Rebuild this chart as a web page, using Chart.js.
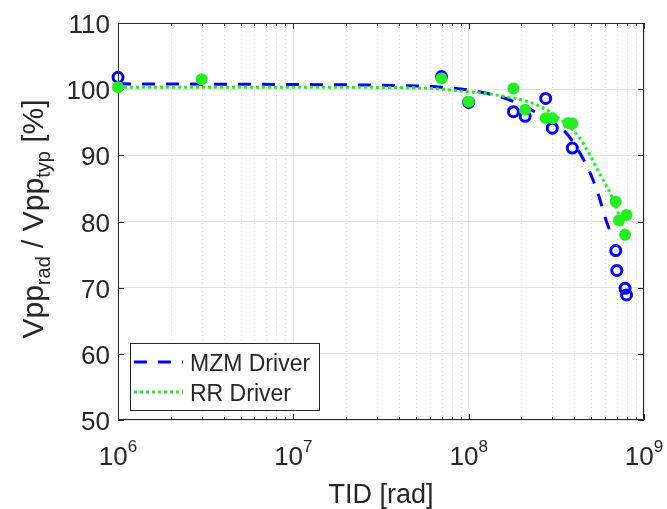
<!DOCTYPE html>
<html>
<head>
<meta charset="utf-8">
<script src="https://cdn.jsdelivr.net/npm/chart.js@4"></script>
<style>
html, body { margin: 0; padding: 0; background: #fff; }
</style>
</head>
<body>
<canvas id="vpp_chart" width="667" height="509"></canvas>
<script>
// measured points (TID in rad, Vpp ratio in %)
var mzmTid = [1e6, 7e7, 1e8, 1.8e8, 2.1e8, 2.75e8, 3.0e8, 3.9e8, 6.9e8, 7.0e8, 7.8e8, 7.95e8];
var mzmVpp = [101.8, 101.9, 98.0, 96.6, 95.9, 98.6, 94.1, 91.1, 75.6, 72.6, 69.9, 68.9];

var rrTid = [1e6, 3e6, 7e7, 1e8, 1.8e8, 2.1e8, 2.75e8, 3.0e8, 3.7e8, 3.9e8, 6.9e8, 7.2e8, 7.95e8, 7.8e8];
var rrVpp = [100.3, 101.5, 101.6, 98.1, 100.1, 96.9, 95.6, 95.6, 94.9, 94.8, 83.0, 80.2, 81.0, 78.0];

// fit curves
var mzmFitTid = [1e6, 1e7, 3e7, 7e7, 1.2e8, 1.7e8, 2.5e8, 3.0e8, 3.7e8, 4.9e8, 5.5e8, 6.2e8, 6.6e8];
var mzmFitVpp = [100.8, 100.7, 100.6, 100.3, 99.5, 98.4, 96.3, 95.0, 93.0, 87.5, 84.0, 79.5, 77.8];

var rrFitTid = [1e6, 1e7, 5e7, 1e8, 1.45e8, 2.3e8, 3.0e8, 4.3e8, 5.7e8, 6.6e8, 7.2e8, 7.8e8];
var rrFitVpp = [100.3, 100.3, 100.2, 99.6, 99.1, 97.9, 96.3, 92.6, 86.8, 83.6, 81.0, 78.0];

var yTicks = [50, 60, 70, 80, 90, 100, 110];
var xDecades = [6, 7, 8, 9];
var legendLabels = ['MZM Driver', 'RR Driver'];
var xTitle = 'TID [rad]';

var FONT = '"Liberation Sans", Arial, sans-serif';
var TXT = '#262626';
var BLUE = '#0000ff';
var GREEN = '#22ee22';

function pts(xs, ys) {
    return xs.map(function (x, i) { return { x: x, y: ys[i] }; });
}

function seg(ctx, x1, y1, x2, y2) {
    ctx.beginPath();
    ctx.moveTo(x1, y1);
    ctx.lineTo(x2, y2);
    ctx.stroke();
}

// minor grid, box and inward ticks, under the data
var matlabAxes = {
    id: 'matlabAxes',
    beforeDatasetsDraw: function (chart) {
        var ctx = chart.ctx, a = chart.chartArea;
        var xs = chart.scales.x, ys = chart.scales.y;
        ctx.save();
        ctx.lineWidth = 1;
        ctx.strokeStyle = '#d6d6d6';
        ctx.setLineDash([1, 3]);
        var minors = [];
        for (var e = 6; e < 9; e++) {
            for (var m = 2; m <= 9; m++) minors.push(Math.round(xs.getPixelForValue(m * Math.pow(10, e))) + 0.5);
        }
        minors.forEach(function (px) { seg(ctx, px, a.top, px, a.bottom); });
        ctx.setLineDash([]);

        ctx.strokeStyle = TXT;
        ctx.strokeRect(Math.round(a.left) + 0.5, Math.round(a.top) + 0.5,
            Math.round(a.right - a.left) - 1, Math.round(a.bottom - a.top) - 1);
        minors.forEach(function (px) {
            seg(ctx, px, a.bottom, px, a.bottom - 3);
            seg(ctx, px, a.top, px, a.top + 3);
        });
        xDecades.forEach(function (d) {
            var px = Math.round(xs.getPixelForValue(Math.pow(10, d))) + 0.5;
            seg(ctx, px, a.bottom, px, a.bottom - 6);
            seg(ctx, px, a.top, px, a.top + 6);
        });
        yTicks.forEach(function (v) {
            var py = Math.round(ys.getPixelForValue(v)) + 0.5;
            seg(ctx, a.left, py, a.left + 6, py);
            seg(ctx, a.right, py, a.right - 6, py);
        });
        ctx.restore();
    },
    afterDraw: function (chart) {
        var ctx = chart.ctx, a = chart.chartArea;
        var xs = chart.scales.x, ys = chart.scales.y;
        ctx.save();
        ctx.fillStyle = TXT;

        // y tick labels
        ctx.font = '26px ' + FONT;
        ctx.textAlign = 'right';
        ctx.textBaseline = 'alphabetic';
        yTicks.forEach(function (v) {
            ctx.fillText(String(v), a.left - 8, ys.getPixelForValue(v) + 10);
        });

        // x tick labels 10^n
        ctx.textAlign = 'left';
        xDecades.forEach(function (d) {
            var px = xs.getPixelForValue(Math.pow(10, d));
            ctx.font = '26px ' + FONT;
            var w1 = ctx.measureText('10').width;
            ctx.font = '17px ' + FONT;
            var w2 = ctx.measureText(String(d)).width;
            var x0 = px - (w1 + w2) / 2;
            ctx.font = '26px ' + FONT;
            ctx.fillText('10', x0, a.bottom + 45);
            ctx.font = '17px ' + FONT;
            ctx.fillText(String(d), x0 + w1, a.bottom + 32);
        });

        // x title
        ctx.font = '27px ' + FONT;
        ctx.textAlign = 'center';
        ctx.fillText(xTitle, (a.left + a.right) / 2, a.bottom + 83);

        // y title with subscripts
        var parts = [['Vpp', 0], ['rad', 1], [' / Vpp', 0], ['typ', 1], [' [%]', 0]];
        var big = '30px ' + FONT, small = '20px ' + FONT;
        var total = 0;
        parts.forEach(function (p) {
            ctx.font = p[1] ? small : big;
            total += ctx.measureText(p[0]).width;
        });
        ctx.translate(43, 219);
        ctx.rotate(-Math.PI / 2);
        ctx.textAlign = 'left';
        var cx = -total / 2;
        parts.forEach(function (p) {
            ctx.font = p[1] ? small : big;
            ctx.fillText(p[0], cx, p[1] ? 7 : 0);
            cx += ctx.measureText(p[0]).width;
        });
        ctx.setTransform(1, 0, 0, 1, 0, 0);

        // legend box
        var lx = 130, ly = 343, lw = 189, lh = 67;
        ctx.fillStyle = '#ffffff';
        ctx.fillRect(lx, ly, lw, lh);
        ctx.strokeStyle = TXT;
        ctx.lineWidth = 1;
        ctx.strokeRect(lx + 0.5, ly + 0.5, lw, lh);
        var fits = [chart.data.datasets[2], chart.data.datasets[3]];
        var rows = [362, 392];
        fits.forEach(function (ds, i) {
            ctx.strokeStyle = ds.borderColor;
            ctx.lineWidth = ds.borderWidth;
            ctx.setLineDash(ds.borderDash);
            seg(ctx, lx + 4, rows[i], lx + 53, rows[i]);
            ctx.setLineDash([]);
            ctx.fillStyle = TXT;
            ctx.font = '23px ' + FONT;
            ctx.textAlign = 'left';
            ctx.fillText(ds.label, lx + 60, rows[i] + 8.5);
        });
        ctx.restore();
    }
};

var vpp_ctx = document.getElementById('vpp_chart').getContext('2d');
var vpp_chart = new Chart(vpp_ctx, {
    type: 'scatter',
    data: {
        datasets: [{
            label: 'MZM data',
            data: pts(mzmTid, mzmVpp),
            showLine: false,
            pointRadius: 5,
            pointBorderWidth: 3,
            pointBorderColor: BLUE,
            pointBackgroundColor: 'rgba(0,0,0,0)',
            clip: false,
            order: 1
        }, {
            label: 'RR data',
            data: pts(rrTid, rrVpp),
            showLine: false,
            pointRadius: 6,
            pointBorderWidth: 0,
            pointBackgroundColor: GREEN,
            pointBorderColor: GREEN,
            clip: false,
            order: 0
        }, {
            label: legendLabels[0],
            data: pts(mzmFitTid, mzmFitVpp),
            showLine: true,
            borderColor: BLUE,
            borderWidth: 3,
            borderDash: [13, 11],
            pointRadius: 0,
            cubicInterpolationMode: 'monotone',
            clip: false,
            order: 3
        }, {
            label: legendLabels[1],
            data: pts(rrFitTid, rrFitVpp),
            showLine: true,
            borderColor: GREEN,
            borderWidth: 3,
            borderDash: [3, 3],
            pointRadius: 0,
            cubicInterpolationMode: 'monotone',
            clip: false,
            order: 2
        }]
    },
    options: {
        responsive: false,
        animation: false,
        events: [],
        layout: { padding: { left: 118, right: 23, top: 23, bottom: 89 } },
        plugins: { legend: { display: false }, tooltip: { enabled: false } },
        scales: {
            x: {
                type: 'logarithmic',
                min: 1e6,
                max: 1e9,
                afterBuildTicks: function (s) {
                    s.ticks = xDecades.map(function (d) { return { value: Math.pow(10, d) }; });
                },
                ticks: { display: false, padding: 0 },
                grid: { color: '#e2e2e2', drawTicks: false },
                border: { display: false }
            },
            y: {
                min: 50,
                max: 110,
                afterBuildTicks: function (s) {
                    s.ticks = yTicks.map(function (v) { return { value: v }; });
                },
                ticks: { display: false, padding: 0 },
                grid: { color: '#e2e2e2', drawTicks: false },
                border: { display: false }
            }
        }
    },
    plugins: [matlabAxes]
});
</script>
</body>
</html>
